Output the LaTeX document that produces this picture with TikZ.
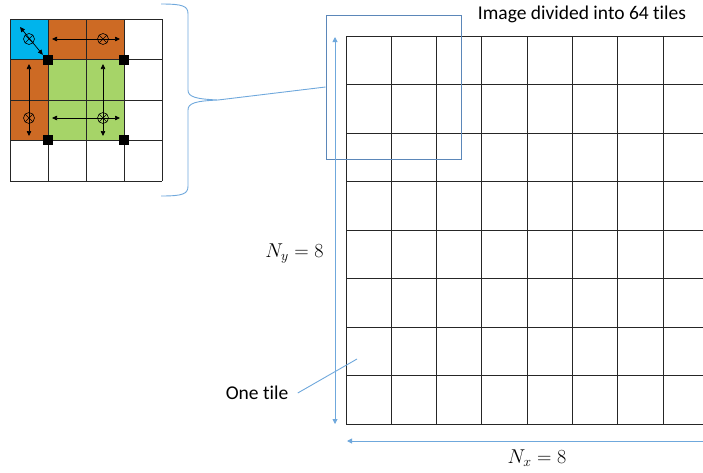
\RequirePackage{fix-cm}
\documentclass[tikz,border=0pt]{standalone}
\usepackage{fontspec}
\setmainfont{Carlito}[Ligatures={TeX,NoCommon}]
\usepackage{amsmath}
\usetikzlibrary{arrows.meta, positioning, calc}
\definecolor{tileblue}{HTML}{00B4EC}
\definecolor{tileorange}{HTML}{CD6A24}
\definecolor{tilegreen}{HTML}{A6D468}
\definecolor{linkblue}{HTML}{6FA8DC}
\definecolor{boxblue}{HTML}{5B87B9}

\begin{document}
\begin{tikzpicture}[
    x=1pt, y=-1pt,
    gridline/.style={line width=0.9pt, color=black!85},
    cellarrow/.style={{Triangle[length=5pt,width=4.5pt]}-{Triangle[length=5pt,width=4.5pt]}, line width=0.7pt},
    dimarrow/.style={line width=0.9pt, color=linkblue},
    linkline/.style={line width=0.9pt, color=linkblue},
    zoombox/.style={rectangle, draw=boxblue, line width=1pt, minimum width=135pt, minimum height=144pt, inner sep=0pt},
    corner/.style={rectangle, fill=black, minimum size=10pt, inner sep=0pt},
    cross/.style={circle, draw, line width=0.6pt, minimum size=11pt, inner sep=0pt,
        path picture={\draw[line width=0.6pt] ([shift={(45:5.5pt)}]path picture bounding box.center) -- ([shift={(225:5.5pt)}]path picture bounding box.center);
                      \draw[line width=0.6pt] ([shift={(135:5.5pt)}]path picture bounding box.center) -- ([shift={(315:5.5pt)}]path picture bounding box.center);}},
    label/.style={font=\fontsize{19.5}{22}\selectfont, align=center},
    dimlabel/.style={font=\fontsize{20}{22}\selectfont}
]
\clip (0,0) rectangle (703,472);

% Zoomed corner: coloured tiles
\fill[tileblue] (10,19) rectangle (48,60);
\fill[tileorange] (48,19) rectangle (124,60);
\fill[tileorange] (10,60) rectangle (48,140);
\fill[tilegreen] (48,60) rectangle (124,140);
\foreach \i in {0,...,4} {
  \draw[gridline] ({10+38*\i},19) -- ({10+38*\i},181);
  \draw[gridline] (10,{19+40.5*\i}) -- (162,{19+40.5*\i});
}

% tile centres and interpolation arrows
\node[cross] (c11) at (29,39) {};
\node[cross] (c12) at (103,39) {};
\node[cross] (c21) at (29,118) {};
\node[cross] (c22) at (103,118) {};
\node[corner] (q1) at (48,60) {};
\node[corner] (q2) at (124,60) {};
\node[corner] (q3) at (48,140) {};
\node[corner] (q4) at (124,140) {};

\coordinate (a1) at (20,27);
\coordinate (a2) at (52,39);
\coordinate (a3) at (120,39);
\coordinate (a4) at (29,64);
\coordinate (a5) at (29,136);
\coordinate (a6) at (52,118);
\coordinate (a7) at (120,118);
\coordinate (a8) at (103,64);
\coordinate (a9) at (103,136);
\draw[cellarrow] (a1) -- (q1.north west);
\draw[cellarrow] (a2) -- (a3);
\draw[cellarrow] (a4) -- (a5);
\draw[cellarrow] (a6) -- (a7);
\draw[cellarrow] (a8) -- (a9);

% brace to zoom box
\coordinate (bracetip) at (218,100);
\draw[linkline] (161,4) .. controls (183,4) and (188,6) .. (188,14) -- (188,90)
  .. controls (188,97) and (196,99) .. (bracetip)
  .. controls (196,101) and (188,103) .. (188,110) -- (188,186)
  .. controls (188,194) and (183,196) .. (161,196);

% Full image: 8 x 8 tiles
\foreach \i in {0,...,8} {
  \draw[gridline] ({346+45.3*\i},36) -- ({346+45.3*\i},424);
  \draw[gridline] (346,{36+48.5*\i}) -- (710,{36+48.5*\i});
}

\node[zoombox] (zoom) at (393.5,87) {};
\draw[linkline] (bracetip) -- (zoom.west);

\node[label] (title) at (582,14) {Image divided into 64 tiles};

% tile counts
\coordinate (ytop) at (335,37);
\coordinate (ybot) at (335,424);
\draw[dimarrow, {Triangle[length=5pt,width=5pt]}-{Triangle[length=5pt,width=5pt]}] (ytop) -- (ybot);
\coordinate (xright) at (712,441);
\coordinate (xleft) at (347,441);
\draw[dimarrow, -{Triangle[length=5pt,width=5pt]}] (xright) -- (xleft);
\node[dimlabel, anchor=east] (ny) at (327,254) {$N_y = 8$};
\node[dimlabel] (nx) at (537,458) {$N_x = 8$};

% one tile
\node[label] (onetile) at (257,393) {One tile};
\coordinate (tilept) at (357,359);
\draw[linkline] ([xshift=6pt]onetile.east) -- (tilept);

\end{tikzpicture}
\end{document}
